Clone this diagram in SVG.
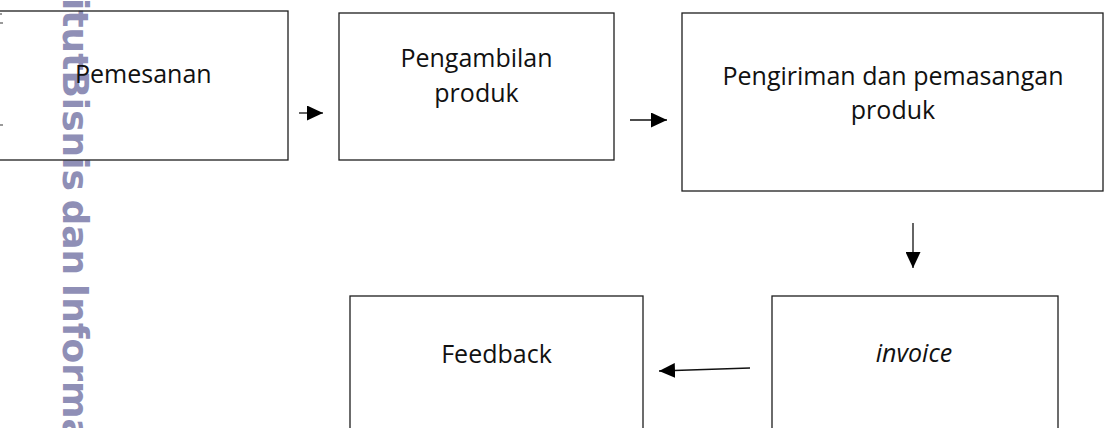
<svg xmlns="http://www.w3.org/2000/svg" width="1108" height="428" viewBox="0 0 1108 428">
  <style>
    .box { fill: none; stroke: #1e1e1e; stroke-width: 1.3; }
    .lbl { font-family: "Open Sans", "Noto Sans", sans-serif; font-size: 25px; fill: #111; }
    .mid { text-anchor: middle; }
    .conn { stroke: #111; stroke-width: 1.3; fill: none; marker-end: url(#ah); }
    .wm { font-family: "DejaVu Sans", sans-serif; font-weight: bold; font-size: 36px; fill: #8f8fb6; word-spacing: -4px; }
    .tick { fill: #9a9a9a; }
  </style>
  <defs>
    <marker id="ah" markerUnits="userSpaceOnUse" markerWidth="16" markerHeight="15" refX="16" refY="7.5" orient="auto">
      <path d="M0,0 L16,7.5 L0,15 z" fill="#000"/>
    </marker>
  </defs>
  <rect width="1108" height="428" fill="#fff"/>

  <g id="watermark">
    <text class="wm" transform="translate(63,-2) rotate(90)">itutBisnis dan Informa</text>
    <rect class="tick" x="0" y="13" width="2" height="2"/>
    <rect class="tick" x="0" y="22" width="3" height="2"/>
    <rect class="tick" x="0" y="124" width="3" height="2"/>
  </g>

  <g id="node-pemesanan">
    <rect class="box" x="-2" y="11" width="290" height="149"/>
    <text class="lbl" x="75" y="83">Pemesanan</text>
  </g>

  <g id="node-pengambilan">
    <rect class="box" x="339" y="13" width="275" height="147"/>
    <text class="lbl mid" x="476.5" y="67">Pengambilan</text>
    <text class="lbl mid" x="476.5" y="102">produk</text>
  </g>

  <g id="node-pengiriman">
    <rect class="box" x="682" y="13" width="421" height="178"/>
    <text class="lbl mid" x="893" y="85">Pengiriman dan pemasangan</text>
    <text class="lbl mid" x="893" y="119">produk</text>
  </g>

  <g id="node-invoice">
    <rect class="box" x="772" y="296" width="286" height="150"/>
    <text class="lbl mid" x="914" y="362" font-style="italic">invoice</text>
  </g>

  <g id="node-feedback">
    <rect class="box" x="350" y="296" width="293" height="150"/>
    <text class="lbl mid" x="496.5" y="363">Feedback</text>
  </g>

  <g id="connectors">
    <line class="conn" x1="299" y1="113" x2="323" y2="113"/>
    <line class="conn" x1="630" y1="120" x2="667" y2="120"/>
    <line class="conn" x1="913" y1="223" x2="913" y2="268"/>
    <line class="conn" x1="750" y1="368" x2="659" y2="371"/>
  </g>
</svg>
